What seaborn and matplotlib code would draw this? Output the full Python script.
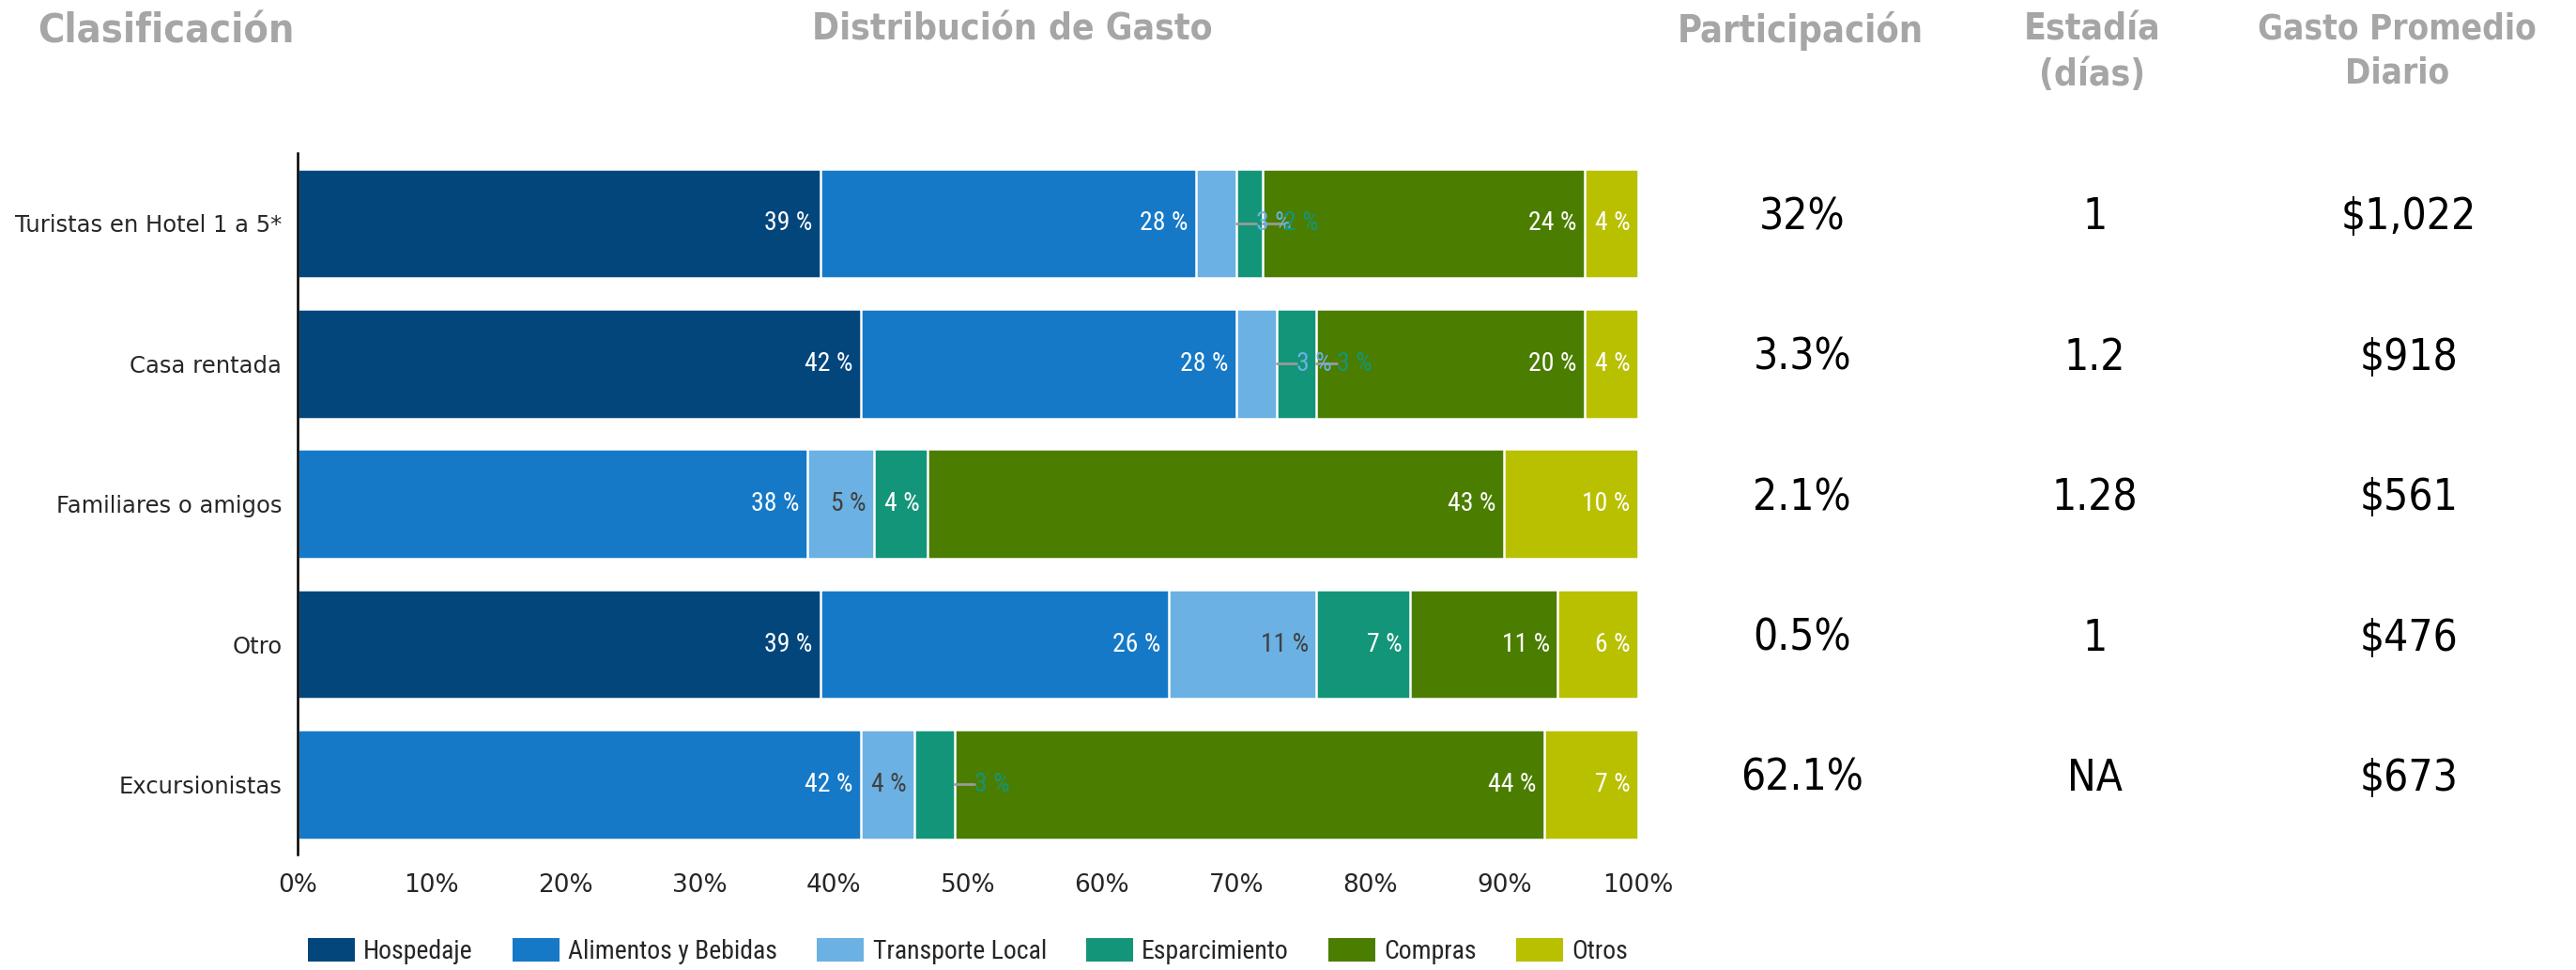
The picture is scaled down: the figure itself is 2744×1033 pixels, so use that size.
import numpy as np
import pandas as pd
import matplotlib
matplotlib.use('Agg')
import matplotlib.pyplot as plt
import matplotlib.patches as mpatches
import matplotlib.transforms as mtransforms
import seaborn as sns

# data
clasificacion = ['Turistas en Hotel 1 a 5*', 'Casa rentada', 'Familiares o amigos',
                 'Otro', 'Excursionistas']
rubros = ['Hospedaje', 'Alimentos y Bebidas', 'Transporte Local',
          'Esparcimiento', 'Compras', 'Otros']
hospedaje = [39, 42, 0, 39, 0]
alimentos = [28, 28, 38, 26, 42]
transporte = [3, 3, 5, 11, 4]
esparcimiento = [2, 3, 4, 7, 3]
compras = [24, 20, 43, 11, 44]
otros = [4, 4, 10, 6, 7]

participacion = ['32%', '3.3%', '2.1%', '0.5%', '62.1%']
estadia = ['1', '1.2', '1.28', '1', 'NA']
gasto_diario = ['$1,022', '$918', '$561', '$476', '$673']

colores = ['#03467C', '#1579C7', '#6BB1E3', '#139579', '#4B7D00', '#B8C000']
color_label = ['white', 'white', '#404040', 'white', 'white', 'white']

df = pd.DataFrame({'Clasificacion': clasificacion, 'Hospedaje': hospedaje,
                   'Alimentos y Bebidas': alimentos, 'Transporte Local': transporte,
                   'Esparcimiento': esparcimiento, 'Compras': compras, 'Otros': otros})
cum = df[rubros].cumsum(axis=1)

sns.set_style('white')
plt.rcParams['font.family'] = ['DejaVu Sans']
cond = 'Roboto Condensed'

fig = plt.figure(figsize=(27.44, 10.33), dpi=100)
ax = fig.add_axes([0.1155, 0.119, 0.5205, 0.723])

# stacked bars: draw cumulative totals from the last to the first
for i in range(len(rubros) - 1, -1, -1):
    sns.barplot(x=cum[rubros[i]], y=df['Clasificacion'], orient='h', color=colores[i],
                width=0.78, edgecolor='white', linewidth=1.8, errorbar=None,
                saturation=1, ax=ax)

# segment labels (small ones go outside with a leader line)
for r in range(len(clasificacion)):
    for i, rub in enumerate(rubros):
        v = df.loc[r, rub]
        if v == 0:
            continue
        fin = cum.loc[r, rub]
        if v < 3.5:
            ax.plot([fin, fin + 1.5], [r, r], color='#9A9A9A', lw=2, zorder=5)
            ax.text(fin + 1.5, r, f'{v} %', ha='left', va='center', fontsize=20,
                    family=cond, color=colores[i], zorder=6)
        else:
            ax.text(fin - 0.6, r, f'{v} %', ha='right', va='center', fontsize=20,
                    family=cond, color=color_label[i], zorder=6)

ax.set_xlim(0, 100)
ax.set_ylim(4.5, -0.5)
ax.set_xticks(range(0, 101, 10))
ax.set_xticklabels([f'{t}%' for t in range(0, 101, 10)], fontsize=19)
ax.tick_params(axis='y', labelsize=17.5, length=0, pad=12)
ax.tick_params(axis='x', length=0, pad=14)
ax.set_xlabel('')
ax.set_ylabel('')
for s in ['top', 'right', 'bottom']:
    ax.spines[s].set_visible(False)
ax.spines['left'].set_color('black')
ax.spines['left'].set_linewidth(1.8)

# header texts
gris = '#A6A6A6'
hdr = dict(fontweight='bold', fontstretch='condensed', color=gris,
           family='DejaVu Sans', ha='center', va='top', linespacing=1.35)
fig.text(0.0644, 0.988, 'Clasificación', fontsize=31, **hdr)
fig.text(0.3929, 0.988, 'Distribución de Gasto', fontsize=28, **hdr)
fig.text(0.699, 0.988, 'Participación', fontsize=28.5, **hdr)
fig.text(0.812, 0.988, 'Estadía\n(días)', fontsize=28, **hdr)
fig.text(0.9305, 0.988, 'Gasto Promedio\nDiario', fontsize=26.5, **hdr)

# table columns to the right of the bars
trans = mtransforms.blended_transform_factory(fig.transFigure, ax.transData)
for r in range(len(clasificacion)):
    for xc, col in [(0.6996, participacion), (0.8132, estadia), (0.935, gasto_diario)]:
        fig.text(xc, r - 0.04, col[r], transform=trans, ha='center', va='center',
                 fontsize=33, family='DejaVu Sans', fontstretch='condensed', color='black')

# legend
handles = [mpatches.Patch(facecolor=c, edgecolor='none', label=l) for c, l in zip(colores, rubros)]
fig.legend(handles=handles, loc='center', bbox_to_anchor=(0.3757, 0.0195), ncol=6,
           frameon=False, prop={'family': cond, 'size': 20}, handlelength=1.8,
           handleheight=1.0, columnspacing=1.5, handletextpad=0.35)

fig.savefig('out.png', dpi=100)
